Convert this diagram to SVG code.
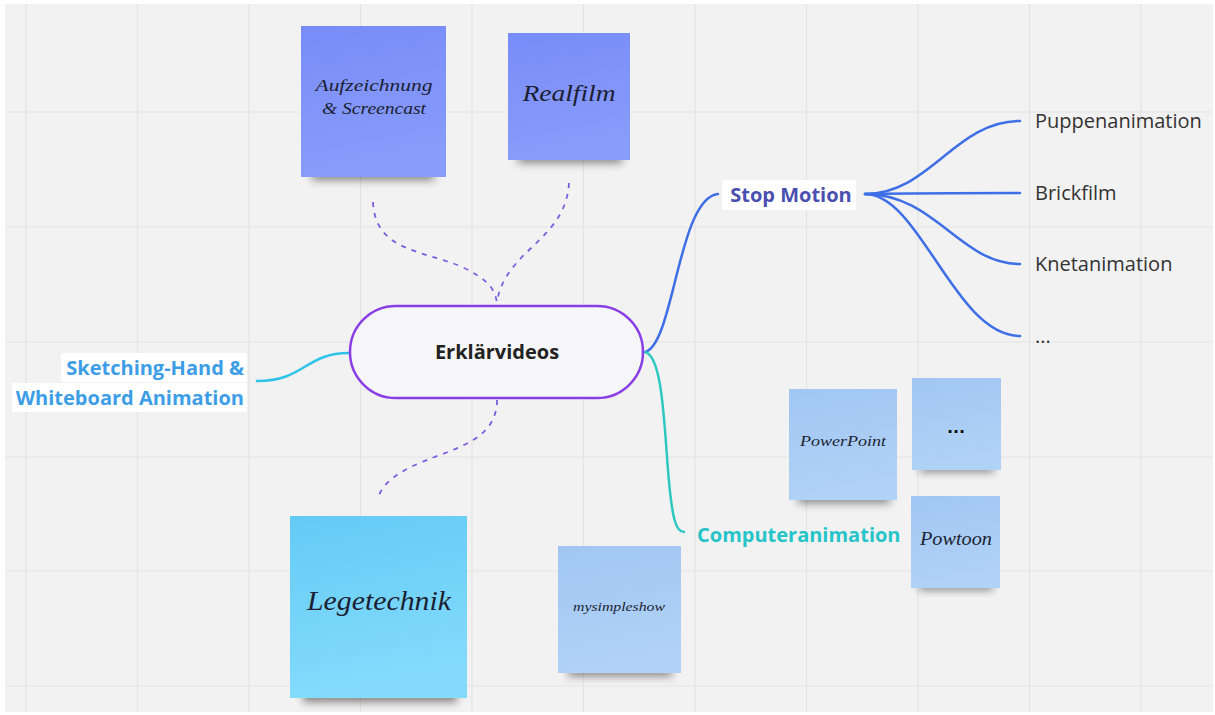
<svg xmlns="http://www.w3.org/2000/svg" width="1215" height="715" viewBox="0 0 1215 715">
<defs>
<style>
.grid line{stroke:#e3e3e3;stroke-width:1.2}
.hand{font-family:"Liberation Serif","DejaVu Serif",serif;font-style:italic;fill:#1c1f33;text-anchor:middle}
.mm{font-family:"Open Sans","Noto Sans",sans-serif}
.leaf{font-size:20px;fill:#333333}
.br{stroke-width:2.5;fill:none;stroke-linecap:round}
.dash{stroke:#7b5fe0;stroke-width:1.8;fill:none;stroke-dasharray:5 6}
.shadow{fill:#222;opacity:0.55;filter:url(#blur)}
</style>
<filter id="blur" x="-20%" y="-100%" width="140%" height="300%"><feGaussianBlur stdDeviation="4"/></filter>
<linearGradient id="gPurple" x1="0" y1="0" x2="0.2" y2="1"><stop offset="0" stop-color="#788cf8"/><stop offset="1" stop-color="#889cfb"/></linearGradient>
<linearGradient id="gCyan" x1="0" y1="0" x2="0.2" y2="1"><stop offset="0" stop-color="#64cbf5"/><stop offset="1" stop-color="#84dbfc"/></linearGradient>
<linearGradient id="gLight" x1="0" y1="0" x2="0.2" y2="1"><stop offset="0" stop-color="#a1c6f3"/><stop offset="1" stop-color="#b0d2f6"/></linearGradient>
</defs>
<rect width="1215" height="715" fill="#ffffff"/>
<rect x="5" y="4" width="1208" height="708" fill="#f2f2f2"/>
<g class="grid">
<line x1="26" y1="4" x2="26" y2="712"/><line x1="137.5" y1="4" x2="137.5" y2="712"/><line x1="249" y1="4" x2="249" y2="712"/><line x1="360.5" y1="4" x2="360.5" y2="712"/><line x1="472" y1="4" x2="472" y2="712"/><line x1="583.5" y1="4" x2="583.5" y2="712"/><line x1="695" y1="4" x2="695" y2="712"/><line x1="806.5" y1="4" x2="806.5" y2="712"/><line x1="918" y1="4" x2="918" y2="712"/><line x1="1029.5" y1="4" x2="1029.5" y2="712"/><line x1="1141" y1="4" x2="1141" y2="712"/>
<line x1="5" y1="112" x2="1213" y2="112"/><line x1="5" y1="227" x2="1213" y2="227"/><line x1="5" y1="342" x2="1213" y2="342"/><line x1="5" y1="457" x2="1213" y2="457"/><line x1="5" y1="571" x2="1213" y2="571"/><line x1="5" y1="686" x2="1213" y2="686"/>
</g>
<g id="connectors">
<path class="dash" d="M373,202 C375,250 420,250 460,266 C490,280 495,290 497,303"/>
<path class="dash" d="M569,183 C566,240 505,250 497,302"/>
<path class="dash" d="M497,400 C497,440 455,448 422,462 C388,476 379,490 378,500"/>
<path class="br" stroke="#2fc3ea" d="M257,381 C305,381 305,353 349,353"/>
<path class="br" stroke="#3f6fe6" d="M645,352 C674,345 678,198 718,194"/>
<path class="br" stroke="#2ec8c0" d="M645,352 C662,356 664,420 668,470 C672,520 676,532 684,532"/>
<path class="br" stroke="#3f6fe6" d="M865,194 C930,194 955,121 1020,121"/>
<path class="br" stroke="#3f6fe6" d="M865,194 C920,193 960,193 1020,193"/>
<path class="br" stroke="#3f6fe6" d="M865,194 C935,194 960,264 1020,264"/>
<path class="br" stroke="#3f6fe6" d="M865,194 C920,194 955,336 1020,336"/>
</g>
<g id="sticky-aufzeichnung">
<rect class="shadow" x="312" y="170" width="122" height="10"/>
<rect x="301" y="26" width="145" height="151" fill="url(#gPurple)"/>
<text class="hand" x="374" y="91" font-size="17" textLength="117" lengthAdjust="spacingAndGlyphs">Aufzeichnung</text>
<text class="hand" x="374" y="114" font-size="17" textLength="104" lengthAdjust="spacingAndGlyphs">&amp; Screencast</text>
</g>
<g id="sticky-realfilm">
<rect class="shadow" x="518" y="154" width="104" height="9"/>
<rect x="508" y="33" width="122" height="127" fill="url(#gPurple)"/>
<text class="hand" x="569" y="101" font-size="23" textLength="93" lengthAdjust="spacingAndGlyphs">Realfilm</text>
</g>
<g id="sticky-legetechnik">
<rect class="shadow" x="303" y="690" width="154" height="12"/>
<rect x="290" y="516" width="177" height="182" fill="url(#gCyan)"/>
<text class="hand" x="379" y="610" font-size="27" textLength="144" lengthAdjust="spacingAndGlyphs">Legetechnik</text>
</g>
<g id="sticky-mysimpleshow">
<rect class="shadow" x="568" y="667" width="104" height="9"/>
<rect x="558" y="546" width="123" height="127" fill="url(#gLight)"/>
<text class="hand" x="619" y="611" font-size="12.5" textLength="92" lengthAdjust="spacingAndGlyphs">mysimpleshow</text>
</g>
<g id="sticky-powerpoint">
<rect class="shadow" x="798" y="494" width="92" height="9"/>
<rect x="789" y="389" width="108" height="111" fill="url(#gLight)"/>
<text class="hand" x="843" y="446" font-size="15" textLength="86" lengthAdjust="spacingAndGlyphs">PowerPoint</text>
</g>
<g id="sticky-dots">
<rect class="shadow" x="920" y="464" width="74" height="8"/>
<rect x="912" y="378" width="89" height="92" fill="url(#gLight)"/>
<text x="956" y="433" font-family="DejaVu Sans,sans-serif" font-weight="bold" font-size="16" fill="#111" text-anchor="middle">...</text>
</g>
<g id="sticky-powtoon">
<rect class="shadow" x="919" y="582" width="74" height="8"/>
<rect x="911" y="496" width="89" height="92" fill="url(#gLight)"/>
<text class="hand" x="956" y="545" font-size="18" textLength="72" lengthAdjust="spacingAndGlyphs">Powtoon</text>
</g>
<g id="node-erklaervideos">
<rect x="350" y="306" width="293" height="92" rx="46" fill="#f6f6f8" stroke="#8a3fe6" stroke-width="2.5"/>
<text class="mm" x="497" y="359" font-size="20" font-weight="bold" fill="#222" text-anchor="middle">Erklärvideos</text>
</g>
<g id="node-stopmotion">
<rect x="722" y="180" width="134" height="30" fill="#ffffff"/>
<text class="mm" x="791" y="202" font-size="20" font-weight="bold" fill="#4a4fb0" text-anchor="middle">Stop Motion</text>
</g>
<g id="node-computeranimation">
<text class="mm" x="697" y="542" font-size="20" font-weight="bold" fill="#26c4c9">Computeranimation</text>
</g>
<g id="node-sketching">
<rect x="61" y="353" width="186" height="29" fill="#ffffff"/>
<rect x="12" y="383" width="235" height="29" fill="#ffffff"/>
<text class="mm" x="244" y="375" font-size="20" font-weight="bold" fill="#3d9de6" text-anchor="end">Sketching-Hand &amp;</text>
<text class="mm" x="244" y="405" font-size="20" font-weight="bold" fill="#3d9de6" text-anchor="end">Whiteboard Animation</text>
</g>
<g id="leaf-puppen"><text class="mm leaf" x="1035" y="128">Puppenanimation</text></g>
<g id="leaf-brick"><text class="mm leaf" x="1035" y="200">Brickfilm</text></g>
<g id="leaf-knet"><text class="mm leaf" x="1035" y="271">Knetanimation</text></g>
<g id="leaf-more"><text class="mm leaf" x="1035" y="343">...</text></g>
</svg>
